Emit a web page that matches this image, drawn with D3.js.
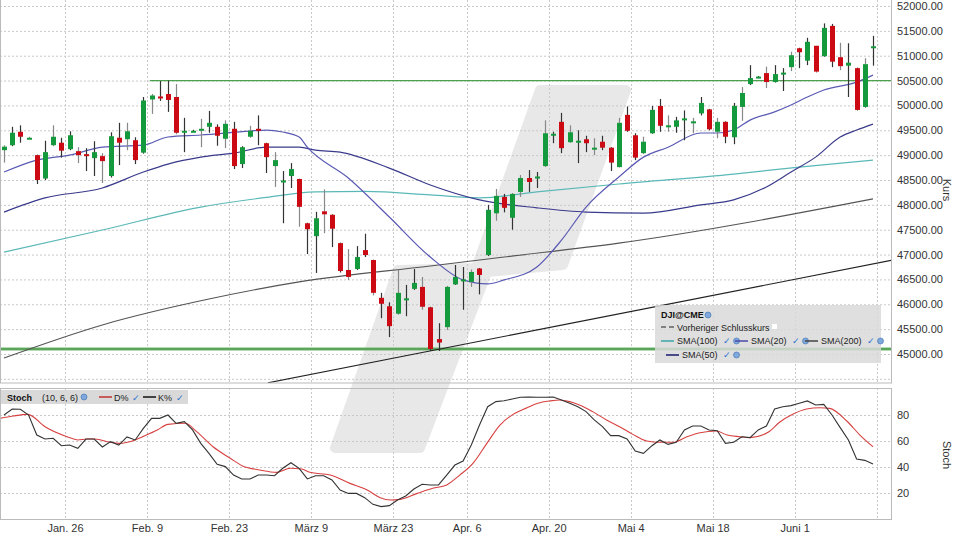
<!DOCTYPE html>
<html><head><meta charset="utf-8">
<script src="https://cdn.jsdelivr.net/npm/d3@7"></script>
<style>
body{margin:0;background:#fff;font-family:"Liberation Sans",Arial,sans-serif}
text{font-family:"Liberation Sans",Arial,sans-serif}
</style></head>
<body><div id="chart"></div>
<script>
// OHLC per trading day, DJI@CME
var opens  = [49100,49200,49470,49350,49000,48530,49200,49250,49120,49080,49020,48940,48980,48580,49350,49320,49300,49050,50120,50180,50230,50170,49450,49490,49500,49570,49570,49330,49530,48820,49370,49530,49240,48780,48470,48580,48520,47630,47370,47870,47800,47230,46690,46710,47090,46890,46130,45960,45810,46100,46310,46350,45940,45300,45540,46400,46480,46450,46720,46990,47830,48160,47740,48260,48540,48550,48780,49410,49670,49260,49270,49320,49130,49270,49150,48760,49810,49400,49040,49440,49990,49580,49570,49740,49660,49840,49920,49470,49670,49360,49970,50430,50560,50650,50470,50640,50770,51150,50900,51200,50990,51600,50970,50800,50750,49970,51170]
var highs  = [49200,49570,49600,49370,49010,49290,49600,49350,49480,49160,49140,49280,49040,49460,49650,49650,49360,50170,50230,50490,50500,50430,49750,49510,49730,49890,49620,49700,49670,49180,49590,49800,49250,49060,48680,48840,48530,47640,47860,48310,47810,47240,47110,47170,47420,46900,46230,46040,46690,46390,46710,46550,45950,45620,46370,46790,46750,46700,46730,48000,48320,48220,48230,48600,48700,48660,49700,49470,49850,49600,49500,49390,49340,49390,49160,49750,49980,49440,49370,49990,50130,49800,49770,49900,49750,50170,49930,49750,49680,50050,50370,50810,50590,50780,50810,50750,51080,51160,51360,51200,51650,51640,51260,51250,50760,50950,51400]
var lows   = [48850,49180,49250,49330,48420,48500,49180,48950,49100,48840,48680,48580,48440,48550,48800,49100,48820,49030,49830,50090,49870,49420,49060,49470,49160,49450,49190,49140,48720,48740,49350,49200,48640,48360,47630,48340,47560,47010,46630,47430,47150,46640,46490,46690,46950,46180,45720,45340,45790,45760,46290,45890,45060,45060,45480,46390,45890,46350,46200,46970,47680,47850,47500,48160,48260,48340,48760,49240,49040,49250,48840,49060,49000,49100,48680,48750,49470,48900,49020,49430,49470,49470,49450,49300,49440,49800,49500,49340,49240,49220,49690,50410,50550,50350,50460,50290,50690,50750,50810,50660,50980,50770,50710,50170,49900,49950,50800]
var closes = [49170,49450,49370,49350,48500,49060,49370,49090,49400,49000,48980,49060,48880,49380,49250,49480,48900,50100,50200,50160,50110,49450,49490,49490,49530,49650,49390,49630,48780,49160,49490,49510,48960,48900,48490,48720,47960,47510,47730,47810,47520,46670,46550,46950,46990,46230,46010,45560,46230,46120,46430,45950,45100,45230,46350,46550,46500,46650,46590,47900,48180,47940,48220,48540,48460,48570,49440,49430,49140,49460,49290,49240,49150,49150,48850,49650,49490,48950,49270,49910,49590,49600,49700,49740,49680,50050,49520,49670,49370,49990,50250,50550,50580,50470,50630,50660,51010,51070,51280,50680,51560,50880,50790,50860,49910,50830,51190]

// moving averages: [day index, value]
var sma20  = [[0,48660],[4,48900],[8,49000],[12,49160],[17,49200],[20,49365],[24,49405],[30,49485],[32,49505],[34,49465],[36,49365],[37,49160],[42,48540],[47,47755],[52,46950],[56,46490],[59,46410],[61,46490],[65,46750],[68,47290],[71,47955],[75,48560],[78,48960],[81,49160],[85,49445],[87,49445],[89,49505],[91,49705],[94,49870],[96,50010],[98,50170],[100,50310],[104,50470],[106,50610]]
var sma50  = [[0,47855],[5,48140],[12,48340],[17,48660],[20,48820],[24,48960],[28,49040],[32,49160],[36,49160],[38,49100],[41,49060],[47,48740],[52,48400],[58,48100],[65,47940],[71,47855],[78,47835],[85,48000],[89,48100],[93,48360],[96,48660],[99,48960],[102,49365],[104,49505],[106,49625]]
var sma100 = [[0,47050],[12,47495],[24,47955],[32,48150],[38,48260],[44,48270],[52,48200],[58,48140],[65,48260],[75,48420],[89,48620],[97,48760],[106,48900]]
var sma200 = [[0,44920],[12,45585],[25,46105],[36,46450],[52,46770],[61,46950],[75,47230],[106,48120]]
var trend  = [[32.2,44420],[108.4,46890]]
var levelHigh = 50500, levelLow = 45100

// stochastic (10,6,6)
var kLine = [80,84.6,84.4,80,64.6,61.5,62.1,56.4,56.9,54.4,61.5,61.5,55.4,59.5,56.9,63.1,60.8,69.7,77.4,77.4,80,73.6,74.9,68.5,58.2,50.5,42.1,40.3,33.8,30.8,30.8,33.8,33.8,33.3,39,43.3,39,30.8,33.3,33.3,30,22.3,19.7,19.7,16.4,11.3,9.5,10.3,14.6,17.7,23.1,26.7,26.2,26.2,33.8,41.5,
  44.6,56.9,72.3,86.4,90.3,91,92.3,93.6,93.8,93.6,93.6,93.8,91.5,89,86.4,82.6,76.2,71,64.1,64.1,61.5,52.3,50.5,56.2,60.8,57.4,59,68.5,71.5,71.5,68.5,67.9,58.2,59,63.3,62.6,68.5,71.5,84.6,86.4,87.2,89,90.8,87.7,88.2,80,70.3,60.8,46.2,45.1,42.3]
var dLine = [[-0.5,77.4],[1.1,79.2],[2.9,80.5],[5,71],[7.7,63.3],[9,60.8],[10.1,61.5],[11.1,61.5],[12.9,59],[14,58.2],[16,60.8],[16.9,63.3],[18.7,68.5],[20,72.8],[22.1,73.6],[23.5,67.2],[25.5,55.6],[27.6,46.7],[29.1,40.8],[31.2,37.7],[33.3,35.9],[34.9,39],[36.3,38.5],[37.3,35.9],[39.8,33.8],[42.2,27.4],[44.3,22.3],[45.9,16.4],[47.1,14.6],[48.3,15.1],[50.4,19.7],[52.3,23.6],[54,26.2],
  [55.6,33.8],[57.2,42.8],[58.9,58.2],[60.5,72.3],[62.1,80.5],[63.8,85.6],[65.1,89],[66.6,90.8],[67.8,91.5],[69,90.3],[70.2,87.7],[71.8,82.6],[73.5,76.2],[75.1,71],[76.7,65.1],[78.4,60],[80,59],[81.6,59],[83.3,63.3],[84.9,66.4],[86.9,67.7],[88.2,64.6],[89.8,63.3],[91,62.6],[93.2,66.7],[94.6,74.4],[96.2,80.5],[97.9,84.6],[99.5,85.6],[100.7,85.1],[102.8,75.4],[104.4,64.6],[106,55.6]]

var tickIdx = [7.5,17.5,27.5,37.5,47.5,56.5,66.5,76.5,86.5,96.5,106.5]
var tickLabels = ["Jan. 26","Feb. 9","Feb. 23","März 9","März 23","Apr. 6","Apr. 20","Mai 4","Mai 18","Juni 1",""]
var priceTicks = [45000,45500,46000,46500,47000,47500,48000,48500,49000,49500,50000,50500,51000,51500,52000]
var stochTicks = [20,40,60,80]

var W = 960, H = 540, plotR = 891
var svg = d3.select("#chart").append("svg").attr("width",W).attr("height",H)

var x = d3.scaleLinear().domain([0,106]).range([4,873])
var y = d3.scaleLinear().domain([45000,52000]).range([354,6])
var ys = d3.scaleLinear().domain([0,100]).range([519,389])

svg.append("clipPath").attr("id","cp").append("rect").attr("x",0).attr("y",0).attr("width",plotR).attr("height",383)
svg.append("clipPath").attr("id","cs").append("rect").attr("x",0).attr("y",388).attr("width",plotR).attr("height",131)

// watermark
svg.append("polygon")
	.attr("points","540,90 626,90 563,265 487,272 420,448 335,448 398,270 476,268")
	.attr("fill","#e8e8e8").attr("stroke","#e8e8e8").attr("stroke-width",10).attr("stroke-linejoin","round")

var main = svg.append("g").attr("clip-path","url(#cp)")
var stoch = svg.append("g").attr("clip-path","url(#cs)")

// grids
main.selectAll(".hg").data(priceTicks.concat([44500])).enter().append("line")
	.attr("x1",0).attr("x2",plotR).attr("y1",d=>y(d)+0.5).attr("y2",d=>y(d)+0.5)
	.attr("stroke","#c8c8c8").attr("stroke-dasharray","2,2")
stoch.selectAll(".hg").data(stochTicks).enter().append("line")
	.attr("x1",0).attr("x2",plotR).attr("y1",d=>ys(d)+0.5).attr("y2",d=>ys(d)+0.5)
	.attr("stroke","#c8c8c8").attr("stroke-dasharray","2,2")
;[main,stoch].forEach(function(g){
	g.selectAll(".vg").data(tickIdx).enter().append("line")
		.attr("x1",d=>Math.round(x(d))+0.5).attr("x2",d=>Math.round(x(d))+0.5).attr("y1",0).attr("y2",H)
		.attr("stroke","#c8c8c8").attr("stroke-dasharray","2,2")
})

// levels
main.append("line").attr("x1",x(17.8)).attr("x2",plotR).attr("y1",y(levelHigh)).attr("y2",y(levelHigh))
	.attr("stroke","#4d9e4d").attr("stroke-width",1.2)
main.append("line").attr("x1",0).attr("x2",plotR).attr("y1",y(levelLow)).attr("y2",y(levelLow))
	.attr("stroke","#6fb56f").attr("stroke-width",3)
main.append("line").attr("x1",0).attr("x2",plotR).attr("y1",y(levelLow)).attr("y2",y(levelLow))
	.attr("stroke","#3f8f3f").attr("stroke-width",0.8)

var line = d3.line().x(d=>x(d[0])).y(d=>y(d[1])).curve(d3.curveMonotoneX)
main.append("path").attr("d",d3.line().x(d=>x(d[0])).y(d=>y(d[1]))(trend)).attr("fill","none").attr("stroke","#222").attr("stroke-width",1.1)
main.append("path").attr("d",line(sma200)).attr("fill","none").attr("stroke","#555").attr("stroke-width",1.1)
main.append("path").attr("d",line(sma100)).attr("fill","none").attr("stroke","#5bb8b8").attr("stroke-width",1.2)
main.append("path").attr("d",line(sma50)).attr("fill","none").attr("stroke","#3a3a8c").attr("stroke-width",1.2)
main.append("path").attr("d",line(sma20)).attr("fill","none").attr("stroke","#5a5ab4").attr("stroke-width",1.2)

// candles
var idx = d3.range(closes.length)
main.selectAll(".wick").data(idx).enter().append("line")
	.attr("x1",i=>Math.round(x(i))+0.5).attr("x2",i=>Math.round(x(i))+0.5)
	.attr("y1",i=>y(highs[i])).attr("y2",i=>y(lows[i]))
	.attr("stroke",i=>(i%3==0)?"#888":"#333").attr("stroke-width",1.2)
main.selectAll(".body").data(idx).enter().append("rect")
	.attr("x",i=>Math.round(x(i))-2).attr("width",5)
	.attr("y",i=>y(Math.max(opens[i],closes[i])))
	.attr("height",i=>Math.max(2,Math.abs(y(opens[i])-y(closes[i]))))
	.attr("fill",i=>closes[i]>=opens[i]?"#149a3c":"#cc0a14")

// stochastic lines
var sl = d3.line().x(d=>x(d[0])).y(d=>ys(d[1]))
stoch.append("path").attr("d",sl.curve(d3.curveMonotoneX)(dLine)).attr("fill","none").attr("stroke","#d84040").attr("stroke-width",1.1)
stoch.append("path").attr("d",d3.line().x((d,i)=>x(i)).y(d=>ys(d))(kLine)).attr("fill","none").attr("stroke","#333").attr("stroke-width",1.1)

// frames
svg.append("rect").attr("x",0.5).attr("y",-1).attr("width",plotR).attr("height",384).attr("fill","none").attr("stroke","#bbb")
svg.append("rect").attr("x",0.5).attr("y",388.5).attr("width",plotR).attr("height",131).attr("fill","none").attr("stroke","#bbb")

// axes labels
svg.selectAll(".pl").data(priceTicks).enter().append("text")
	.attr("x",897).attr("y",d=>y(d)+4).attr("font-size",11).attr("fill","#333").text(d=>d3.format(".2f")(d))
svg.selectAll(".sl").data(stochTicks).enter().append("text")
	.attr("x",897).attr("y",d=>ys(d)+4).attr("font-size",11).attr("fill","#333").text(d=>d)
svg.selectAll(".xl").data(tickIdx).enter().append("text")
	.attr("x",d=>x(d)).attr("y",532).attr("text-anchor","middle").attr("font-size",11).attr("fill","#333")
	.text((d,i)=>tickLabels[i])
svg.append("text").attr("transform","translate(943,190) rotate(90)").attr("text-anchor","middle").attr("font-size",11).attr("fill","#333").text("Kurs")
svg.append("text").attr("transform","translate(943,455) rotate(90)").attr("text-anchor","middle").attr("font-size",11).attr("fill","#333").text("Stoch")

// legends
function globe(gx,gy){
	svg.append("circle").attr("cx",gx).attr("cy",gy).attr("r",3).attr("fill","#7fa8dc").attr("stroke","#3d6fb0").attr("stroke-width",0.6)
}
function check(cx,cy){
	svg.append("text").attr("x",cx).attr("y",cy).attr("font-size",9).attr("fill","#2a6fd0").text("✓")
}
svg.append("rect").attr("x",655).attr("y",305).attr("width",226).attr("height",58).attr("fill","#d9d9d9").attr("opacity",0.85)
svg.append("text").attr("x",661).attr("y",318).attr("font-size",9).attr("font-weight","bold").attr("fill","#111").text("DJI@CME")
globe(708,315)
svg.append("line").attr("x1",661).attr("x2",674).attr("y1",327).attr("y2",327).attr("stroke","#222").attr("stroke-dasharray","5,3")
svg.append("text").attr("x",677).attr("y",331).attr("font-size",9).attr("fill","#222").text("Vorheriger Schlusskurs")
svg.append("rect").attr("x",772).attr("y",324).attr("width",5).attr("height",5).attr("fill","#fff")
var legItems = [["SMA(100)","#3aa6a6",661,341],["SMA(20)","#4a4aa8",735,341],["SMA(200)","#444",805,341],["SMA(50)","#1a1a70",666,355]]
legItems.forEach(function(d){
	svg.append("line").attr("x1",d[2]).attr("x2",d[2]+13).attr("y1",d[3]).attr("y2",d[3]).attr("stroke",d[1]).attr("stroke-width",1.5)
	var t = svg.append("text").attr("x",d[2]+16).attr("y",d[3]+3).attr("font-size",9).attr("fill","#222").text(d[0])
	var w = t.node().getComputedTextLength()
	check(d[2]+21+w,d[3]+3)
	globe(d[2]+35+w,d[3])
})
svg.append("rect").attr("x",1).attr("y",390).attr("width",187).attr("height",14).attr("fill","#d9d9d9")
svg.append("text").attr("x",7).attr("y",401).attr("font-size",9).attr("font-weight","bold").attr("fill","#111").text("Stoch")
svg.append("text").attr("x",42).attr("y",401).attr("font-size",9).attr("fill","#222").text("(10, 6, 6)")
globe(84,397)
svg.append("line").attr("x1",99).attr("x2",112).attr("y1",397).attr("y2",397).attr("stroke","#c03030").attr("stroke-width",1.5)
svg.append("text").attr("x",114).attr("y",401).attr("font-size",9).attr("fill","#222").text("D%")
check(132,401)
svg.append("line").attr("x1",143).attr("x2",156).attr("y1",397).attr("y2",397).attr("stroke","#111").attr("stroke-width",1.5)
svg.append("text").attr("x",158).attr("y",401).attr("font-size",9).attr("fill","#222").text("K%")
check(176,401)
</script></body></html>
